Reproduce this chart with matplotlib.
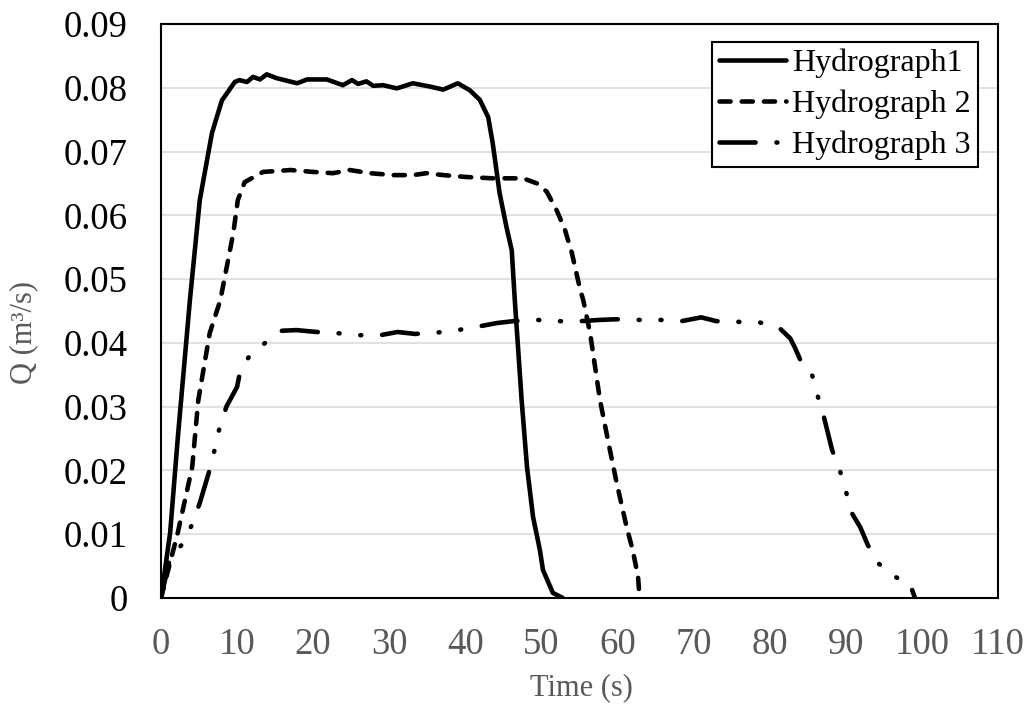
import matplotlib
matplotlib.use("Agg")
import matplotlib.pyplot as plt

plt.rcParams['font.family'] = ['Liberation Serif', 'DejaVu Serif']
plt.rcParams['lines.scale_dashes'] = False

# hydrograph 1 (solid)
t1 = [0, 1.2, 2.2, 3.8, 5.1, 6.7, 8.0, 9.7, 10.3, 11.3, 12.1, 13.0, 13.9, 15.2,
      17.9, 19.2, 21.8, 23.9, 25.1, 25.9, 27.0, 27.9, 29.2, 31.0, 33.1, 35.3,
      37.1, 39.0, 40.6, 41.9, 43.0, 43.6, 44.5, 45.4, 46.1, 46.5, 46.8, 47.4,
      48.1, 48.9, 49.8, 50.2, 51.5, 52.8]
q1 = [0, 0.0102, 0.025, 0.0467, 0.0624, 0.0729, 0.078, 0.0809, 0.0812, 0.0809,
      0.0817, 0.0813, 0.0821, 0.0815, 0.0807, 0.0813, 0.0813, 0.0804, 0.0812,
      0.0806, 0.0810, 0.0803, 0.0804, 0.0799, 0.0807, 0.0802, 0.0797, 0.0807,
      0.0796, 0.0781, 0.0754, 0.0713, 0.0635, 0.0582, 0.0545, 0.0467, 0.0415,
      0.031, 0.0206, 0.0127, 0.0075, 0.0044, 0.0008, 0]

# hydrograph 2 (dashed)
t2 = [0, 2.2, 4.1, 4.9, 6.4, 7.8, 9.5, 10.1, 11.0, 13.4, 17.0, 20.0, 22.6, 24.8,
      27.5, 30.5, 33.1, 34.9, 37.1, 40.2, 43.6, 47.6, 49.4, 50.7, 52.0, 53.1,
      54.0, 55.1, 55.5, 56.4, 57.7, 59.0, 59.9, 61.2, 62.0, 62.7, 62.9]
q2 = [0, 0.0102, 0.0205, 0.031, 0.0415, 0.0467, 0.0572, 0.0624, 0.0652, 0.0668,
      0.0671, 0.0668, 0.0666, 0.0671, 0.0666, 0.0663, 0.0663, 0.0666, 0.0663,
      0.066, 0.0658, 0.0658, 0.065, 0.0637, 0.0608, 0.0577, 0.0541, 0.0483,
      0.0467, 0.0415, 0.031, 0.0232, 0.018, 0.0111, 0.0075, 0.0033, 0]

# hydrograph 3 (long dash - dot - dot)
t3 = [0, 1.2, 2.7, 4.0, 5.1, 6.4, 7.1, 7.7, 8.6, 10.0, 10.4, 11.6, 13.7, 15.9,
      17.8, 20.5, 23.3, 25.9, 28.8, 31.1, 33.4, 36.2, 39.0, 41.9, 44.1, 46.3,
      49.4, 52.2, 55.1, 57.7, 59.9, 62.7, 65.6, 68.4, 71.0, 73.0, 75.8, 78.7,
      81.3, 82.7, 83.3, 84.0, 85.5, 86.2, 87.0, 88.2, 89.2, 90.0, 90.8, 91.9,
      92.9, 94.2, 96.5, 98.4, 99.1]
q3 = [0, 0.0064, 0.0083, 0.0113, 0.0149, 0.0201, 0.0235, 0.0267, 0.030, 0.0331,
      0.0355, 0.0379, 0.040, 0.0419, 0.042, 0.0417, 0.0415, 0.0412, 0.0412,
      0.0417, 0.0414, 0.0416, 0.042, 0.0426, 0.0431, 0.0434, 0.0436, 0.0434,
      0.0434, 0.0436, 0.0437, 0.0436, 0.0436, 0.0434, 0.0440, 0.0434, 0.0433,
      0.0432, 0.0423, 0.0407, 0.0393, 0.0374, 0.0353, 0.0321, 0.029, 0.0232,
      0.0201, 0.0168, 0.0133, 0.0111, 0.0083, 0.0055, 0.0033, 0.0023, 0]

labels = ['Hydrograph1', 'Hydrograph 2', 'Hydrograph 3']
gray = '#595959'

fig = plt.figure(figsize=(10.32, 7.09), dpi=100)
ax = fig.add_axes([0.156, 0.1566, 0.811, 0.8096])

lw = 3.3
ax.plot(t1, q1, color='black', lw=lw, solid_capstyle='round',
        solid_joinstyle='round', label=labels[0])
ax.plot(t2, q2, color='black', lw=lw, dashes=(8, 8), dash_capstyle='round',
        label=labels[1])
ax.plot(t3, q3, color='black', lw=lw, dashes=(26, 15, 0.7, 15, 0.7, 15),
        dash_capstyle='round', label=labels[2])

ax.set_xlim(0, 110)
ax.set_ylim(0, 0.09)
ax.set_xticks(range(0, 111, 10))
ax.set_yticks([i / 100 for i in range(10)])
ax.set_yticklabels(['0'] + ['%.2f' % (i / 100) for i in range(1, 10)])

ax.grid(axis='y', color='#d9d9d9', lw=1.1)
ax.set_axisbelow(True)
for s in ax.spines.values():
    s.set_color('black')
    s.set_linewidth(1.5)

ax.tick_params(axis='both', length=0, labelsize=26.5)
ax.tick_params(axis='x', pad=21, labelcolor=gray)
ax.tick_params(axis='y', pad=24, labelcolor='black')

fig.text(0.5635, 1 - 688 / 709, 'Time (s)', ha='center', va='center',
         fontsize=22, color=gray)
fig.text(24 / 1032, 1 - 333 / 709, 'Q (m³/s)', ha='center', va='center',
         rotation=90, fontsize=22, color=gray)

leg = ax.legend(loc='upper right', bbox_to_anchor=(0.976, 0.969),
                borderaxespad=0, fontsize=23, handlelength=2.1,
                handletextpad=0.2, labelspacing=0.36, borderpad=0.22,
                fancybox=False, framealpha=1)
leg.get_frame().set_edgecolor('black')
leg.get_frame().set_linewidth(1.5)

fig.savefig('out.png', dpi=100)
